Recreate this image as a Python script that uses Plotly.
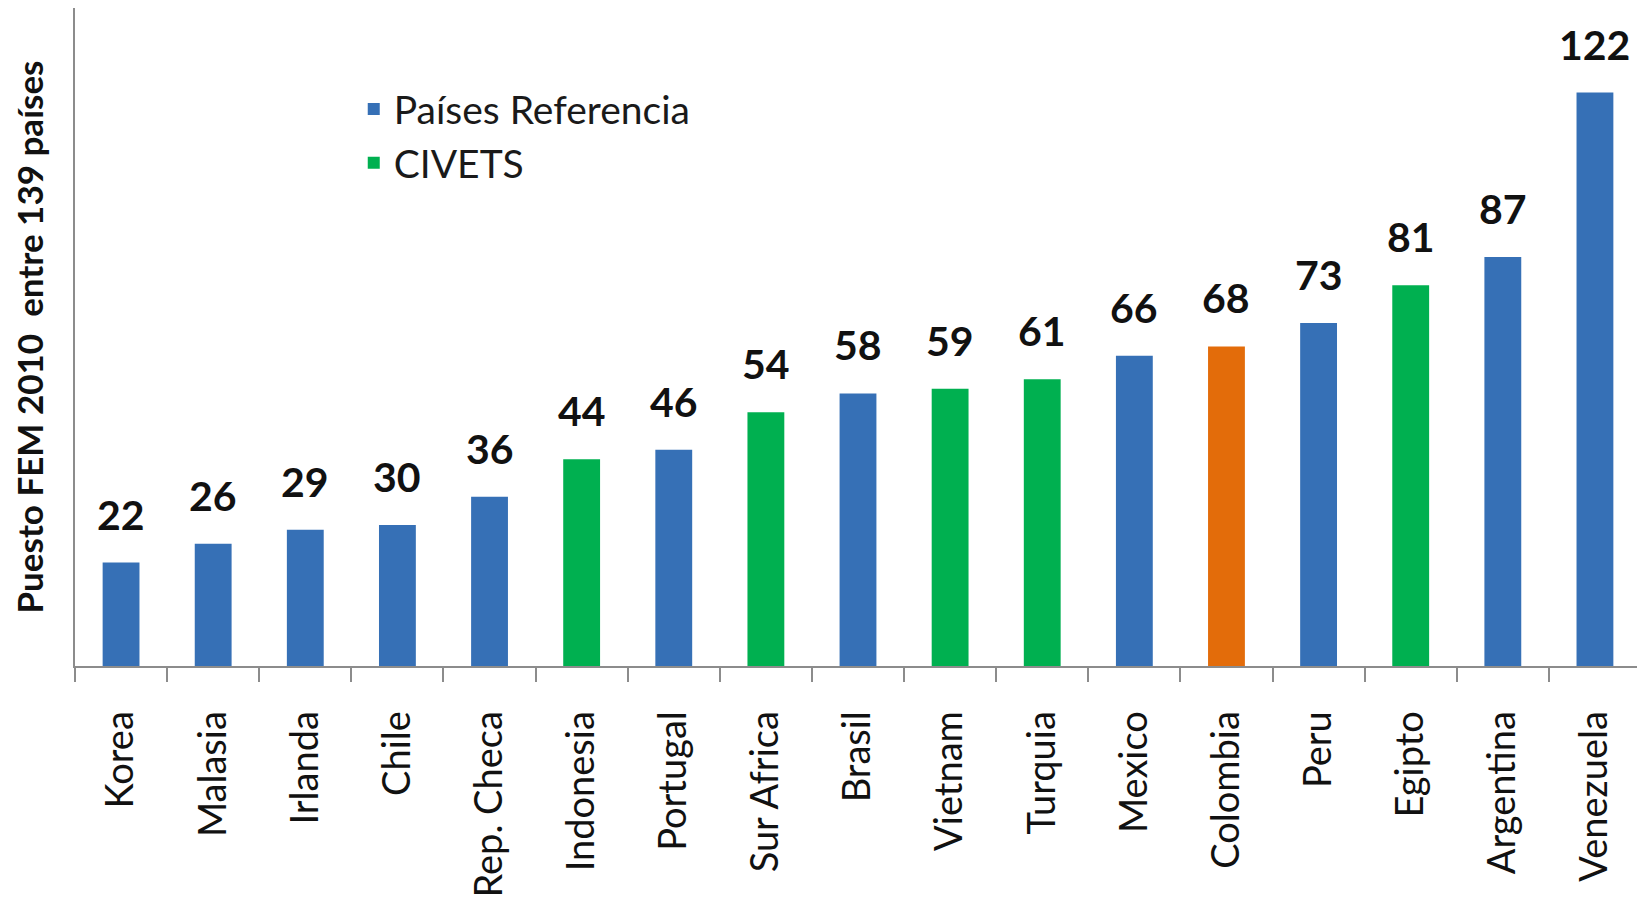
import plotly.graph_objects as go

countries = ["Korea", "Malasia", "Irlanda", "Chile", "Rep. Checa", "Indonesia", "Portugal",
             "Sur Africa", "Brasil", "Vietnam", "Turquia", "Mexico", "Colombia", "Peru",
             "Egipto", "Argentina", "Venezuela"]
ranks = [22, 26, 29, 30, 36, 44, 46, 54, 58, 59, 61, 66, 68, 73, 81, 87, 122]
groups = ["ref", "ref", "ref", "ref", "ref", "civets", "ref", "civets", "ref", "civets",
          "civets", "ref", "col", "ref", "civets", "ref", "ref"]

group_names = {"ref": "Países Referencia", "civets": "CIVETS", "col": "Colombia"}
group_colors = {"ref": "#3670b6", "civets": "#00b050", "col": "#e36c0a"}
FONT = "Lato"

fig = go.Figure()
for g in ["ref", "civets", "col"]:
    xs = [c for c, gg in zip(countries, groups) if gg == g]
    ys = [v for v, gg in zip(ranks, groups) if gg == g]
    fig.add_trace(go.Bar(
        x=xs, y=ys, name=group_names[g],
        marker=dict(color=group_colors[g], line=dict(width=0)),
        width=0.4, showlegend=(g != "col"),
    ))

for c, v in zip(countries, ranks):
    fig.add_annotation(x=c, y=v, text=str(v), showarrow=False, yanchor="bottom",
                       yshift=22, font=dict(family=FONT, size=41, color="#111111", weight="bold"))

fig.update_layout(
    width=1645, height=909,
    barmode="overlay",
    plot_bgcolor="white", paper_bgcolor="white",
    margin=dict(l=67, r=12, t=0, b=251),
    font=dict(family=FONT, color="#111111"),
    legend=dict(x=0.178, y=0.895, xanchor="left", yanchor="top",
                font=dict(family=FONT, size=39, color="#1a1a1a"),
                bgcolor="rgba(0,0,0,0)", itemwidth=30),
    xaxis=dict(categoryorder="array", categoryarray=countries, automargin=False,
               showline=True, linecolor="#8c8c8c", linewidth=2,
               ticks="outside", tickson="boundaries", ticklen=14, tickwidth=2, tickcolor="#8c8c8c",
               tickangle=-90, tickfont=dict(family=FONT, size=38, color="#111111"),
               ticklabelstandoff=28, showgrid=False),
    yaxis=dict(range=[0, 140], showline=True, linecolor="#8c8c8c", linewidth=2,
               showticklabels=False, ticks="", showgrid=False, zeroline=False,
               title=dict(text="Puesto FEM 2010  entre 139 países",
                          font=dict(family=FONT, size=35, color="#111111", weight="bold"),
                          standoff=32)),
)

fig.write_html("out.html")
